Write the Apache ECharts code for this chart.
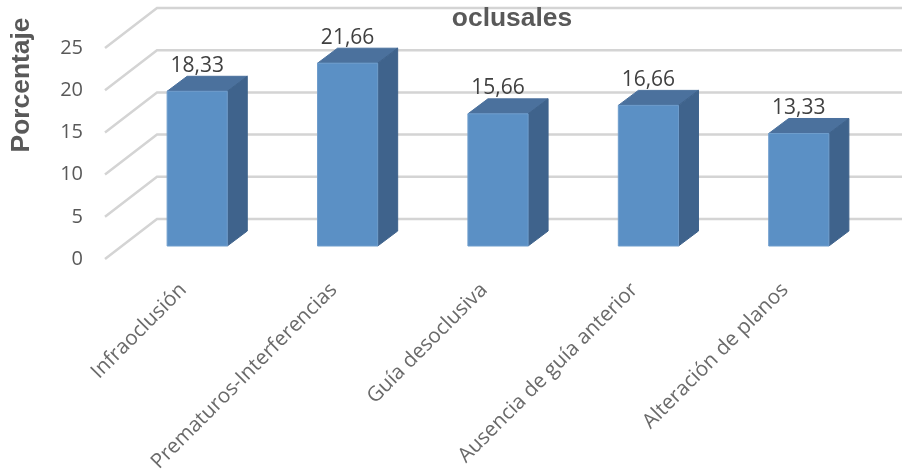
<!DOCTYPE html>
<html><head><meta charset="utf-8">
<style>html,body{margin:0;padding:0;background:#fff}#c{width:902px;height:470px}</style>
<script src="https://cdn.jsdelivr.net/npm/echarts@6/dist/echarts.min.js"></script>
</head><body><div id="c"></div>
<script>
const categories = ['Infraoclusión','Prematuros-Interferencias','Guía desoclusiva','Ausencia de guía anterior','Alteración de planos'];
const values = [18.33,21.66,15.66,16.66,13.33];
const yTicks = [0,5,10,15,20,25];
const titleText = 'oclusales';
const yName = 'Porcentaje';

const WALL_DX = 52, WALL_DY = -40;      // floor depth of the 3D box
const BAR_DX = 17, BAR_DY = -13;        // bar front offset from the axis plane
const DEPTH_X = 20, DEPTH_Y = -15;      // bar depth
const chart = echarts.init(document.getElementById('c'));
const poly = (points, fill, stroke) => ({type:'polygon', shape:{points}, style:{fill, stroke: stroke || fill, lineWidth: 1}});

chart.setOption({
  animation:false,
  backgroundColor:'#fff',
  title:{text:titleText, left:507, top:1, textAlign:'center',
    textStyle:{fontFamily:'Liberation Sans', fontSize:26.4, fontWeight:'bold', color:'#595959'}},
  graphic:[{type:'text', x:22, y:85, rotation:Math.PI/2,
    style:{text:yName, align:'center', verticalAlign:'middle', fontFamily:'Liberation Sans', fontSize:26.4, fontWeight:'bold', fill:'#595959'}}],
  grid:{left:105, top:48, width:752, height:211, outerBoundsMode:'none', containLabel:false},
  xAxis:{type:'category', data:categories, axisLine:{show:false}, axisTick:{show:false}, splitLine:{show:false},
    axisLabel:{rotate:45, interval:0, margin:16, verticalAlign:'top', padding:[0,6,0,0], fontFamily:'Open Sans', fontSize:20.6, color:'#6a6a6a'}},
  yAxis:{type:'value', min:0, max:25, interval:5, axisLine:{show:false}, axisTick:{show:false}, splitLine:{show:false},
    axisLabel:{margin:22, padding:[9,0,0,0], fontFamily:'Open Sans', fontSize:20, color:'#595959'}},
  series:[
    {type:'custom', z:1, silent:true, data:yTicks.map(v=>[0,v]),
     renderItem(params, api){
       const p = api.coord([0, api.value(1)]);
       const x0 = params.coordSys.x, x1 = x0 + params.coordSys.width;
       const y = p[1];
       return {type:'polyline', shape:{points:[[x0,y],[x0+WALL_DX,y+WALL_DY],[x1+WALL_DX,y+WALL_DY]]},
         style:{fill:null, stroke:'#d4d4d4', lineWidth:2.5}};
     }},
    {type:'custom', z:2, silent:true, data:values.map((v,i)=>[i,v]),
     renderItem(params, api){
       const top = api.coord([api.value(0), api.value(1)]);
       const base = api.coord([api.value(0), 0]);
       const w = api.size([1,0])[0] * 0.4;
       const xl = top[0] - w/2 + BAR_DX, xr = xl + w;
       const yt = top[1] + BAR_DY, yb = base[1] + BAR_DY;
       return {type:'group', children:[
         poly([[xl,yt],[xr,yt],[xr+DEPTH_X,yt+DEPTH_Y],[xl+DEPTH_X,yt+DEPTH_Y]], '#4b719d'),
         poly([[xr,yt],[xr+DEPTH_X,yt+DEPTH_Y],[xr+DEPTH_X,yb+DEPTH_Y],[xr,yb]], '#3f638c'),
         {type:'rect', shape:{x:xl,y:yt,width:w,height:yb-yt}, style:{fill:'#5b90c5', stroke:'#6f9dcc', lineWidth:1}},
         {type:'text', style:{text:api.value(1).toFixed(2).replace('.',','), x:xl+w/2, y:yt+DEPTH_Y,
           align:'center', verticalAlign:'bottom', fontFamily:'Open Sans', fontSize:21, fill:'#404040'}}
       ]};
     }}
  ]
});
</script></body></html>
